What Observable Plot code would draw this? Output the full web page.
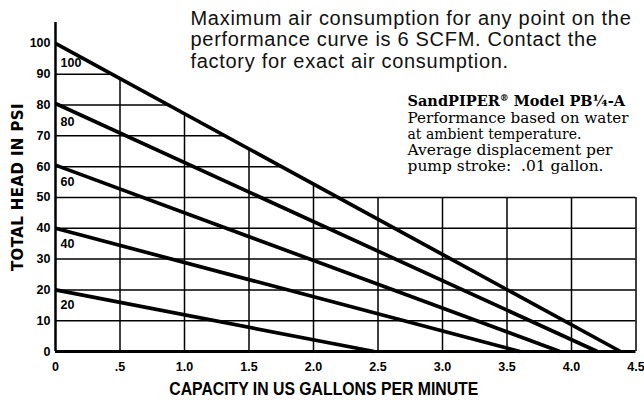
<!DOCTYPE html>
<html><head><meta charset="utf-8">
<script src="https://cdn.jsdelivr.net/npm/d3@7"></script>
<script src="https://cdn.jsdelivr.net/npm/@observablehq/plot@0.6"></script>
<style>
html,body{margin:0;padding:0;background:#fff;}
#chart svg{display:block;overflow:visible;}
</style>
</head><body><div id="chart"></div>
<script>
// Air inlet pressure curves (psi): head at zero flow and capacity at zero head
const curveLabels = ["20", "40", "60", "80", "100"];
const headAtZeroFlow = [20, 40, 60.5, 80.5, 100];
const capacityAtZeroHead = [2.47, 3.6, 3.91, 4.2, 4.38];

const xTicks = [0, 0.5, 1, 1.5, 2, 2.5, 3, 3.5, 4, 4.5];
const xTickLabels = ["0", ".5", "1.0", "1.5", "2.0", "2.5", "3.0", "3.5", "4.0", "4.5"];
const yTicks = [0, 10, 20, 30, 40, 50, 60, 70, 80, 90, 100];
const yTickLabels = ["0", "10", "20", "30", "40", "50", "60", "70", "80", "90", "100"];
const gridFloorTop = 50;

const topNote = "Maximum air consumption for any point on the\nperformance curve is 6 SCFM. Contact the\nfactory for exact air consumption.";
const modelTitle = "SandPIPER\u00AE Model PB\u00BC-A";
const modelNoteLines = ["Performance based on water", "at ambient temperature.", "Average displacement per", "pump stroke:  .01 gallon."];
const xTitle = "CAPACITY IN US GALLONS PER MINUTE";
const yTitle = "TOTAL HEAD IN PSI";

// printed widths (px) of the wide serif note lines, used only to stretch the text
const noteLineWidths = [221, 174, 205, 196];

// build tables
const lines = [];
curveLabels.forEach((label, i) => {
  lines.push({label, x: 0, y: headAtZeroFlow[i]});
  lines.push({label, x: capacityAtZeroHead[i], y: 0});
});
const valueAt = (i, x) => headAtZeroFlow[i] * (1 - x / capacityAtZeroHead[i]);
const labelRows = curveLabels.map((label, i) => ({label, y: valueAt(i, 0.1)}));
const topIdx = curveLabels.length - 1;
const xMax = xTicks[xTicks.length - 1];
const vGrid = xTicks.slice(1).map(x => ({x, y2: Math.max(valueAt(topIdx, x), gridFloorTop)}));
const hGrid = yTicks.slice(1, -1).map(y => ({y, x2: y <= gridFloorTop ? xMax : capacityAtZeroHead[topIdx] * (1 - y / headAtZeroFlow[topIdx])}));

const sans = "'Liberation Sans', Arial, sans-serif";
const heavy = "'DejaVu Sans', sans-serif";
const serif = "'DejaVu Serif', serif";

const chart = Plot.plot({
  width: 644, height: 400,
  marginLeft: 55, marginRight: 8.5, marginTop: 22, marginBottom: 49,
  x: {domain: [0, xMax], label: null},
  y: {domain: [0, 106.8], label: null},
  style: {background: "#fff", color: "#000"},
  marks: [
    Plot.ruleX(vGrid, {x: "x", y1: 0, y2: "y2", stroke: "#000", strokeWidth: 1.5}),
    Plot.ruleY(hGrid, {y: "y", x1: 0, x2: "x2", stroke: "#000", strokeWidth: 1.5}),
    Plot.ruleY([0], {stroke: "#000", strokeWidth: 3}),
    Plot.ruleX([0], {stroke: "#000", strokeWidth: 2.5}),
    Plot.line(lines, {x: "x", y: "y", z: "label", stroke: "#000", strokeWidth: 3.7, strokeLinecap: "butt"}),
    Plot.text(labelRows, {x: () => 0, y: "y", text: "label", dx: 5, dy: 12.5, textAnchor: "start",
      fontFamily: sans, fontWeight: "bold", fontSize: 12.5}),
    Plot.axisX(xTicks, {tickFormat: d => xTickLabels[xTicks.indexOf(d)], tickSize: 0, tickPadding: 11,
      fontFamily: sans, fontWeight: "bold", fontSize: 12.5, label: null}),
    Plot.axisY(yTicks, {tickFormat: d => yTickLabels[yTicks.indexOf(d)], tickSize: 0, tickPadding: 5,
      fontFamily: sans, fontWeight: "bold", fontSize: 12.5, label: null}),
    Plot.text([yTitle], {text: d => d, frameAnchor: "left", textAnchor: "middle", lineAnchor: "middle",
      rotate: -90, dx: -37, fontFamily: heavy, fontWeight: "bold", fontSize: 15, className: "ytitle"}),
    Plot.text([xTitle], {text: d => d, frameAnchor: "bottom", textAnchor: "middle", dx: -22, dy: 38, lineAnchor: "middle",
      fontFamily: sans, fontWeight: "bold", fontSize: 18, className: "xtitle"}),
    Plot.text([topNote], {text: d => d, frameAnchor: "top-left", textAnchor: "start", lineAnchor: "top",
      dx: 135, dy: -13, fontFamily: sans, fontSize: 20, lineHeight: 1.08, fill: "#111", className: "topnote"}),
    Plot.text([modelTitle], {text: d => d, frameAnchor: "top-left", textAnchor: "start", lineAnchor: "top",
      dx: 352, dy: 73, fontFamily: serif, fontWeight: "bold", fontSize: 14.5, className: "mtitle"}),
    ...modelNoteLines.map((line, i) => Plot.text([line], {text: d => d, frameAnchor: "top-left",
      textAnchor: "start", lineAnchor: "top", dx: 352, dy: 89.5 + i * 16.2,
      fontFamily: serif, fontSize: 15, className: "mnote mnote" + i}))
  ]
});
document.getElementById("chart").appendChild(chart);

const svg = d3.select(chart);
// spacing tweaks to imitate the wider print faces
svg.selectAll(".topnote text").style("letter-spacing", "0.7px");
svg.selectAll(".ytitle text").style("letter-spacing", "0.4px");
svg.selectAll(".xtitle text").attr("textLength", 309).attr("lengthAdjust", "spacingAndGlyphs");
noteLineWidths.forEach((w, i) => {
  svg.selectAll(".mnote" + i + " text").attr("textLength", w).attr("lengthAdjust", "spacingAndGlyphs");
});
// superscript registered mark in the model title
svg.selectAll(".mtitle text").each(function() {
  const t = d3.select(this);
  const parts = modelTitle.split("\u00AE");
  t.text(null);
  t.append("tspan").text(parts[0]);
  t.append("tspan").attr("font-size", 9).attr("dy", -5).text("\u00AE");
  t.append("tspan").attr("dy", 5).text(parts[1]);
});
</script>
</body></html>
